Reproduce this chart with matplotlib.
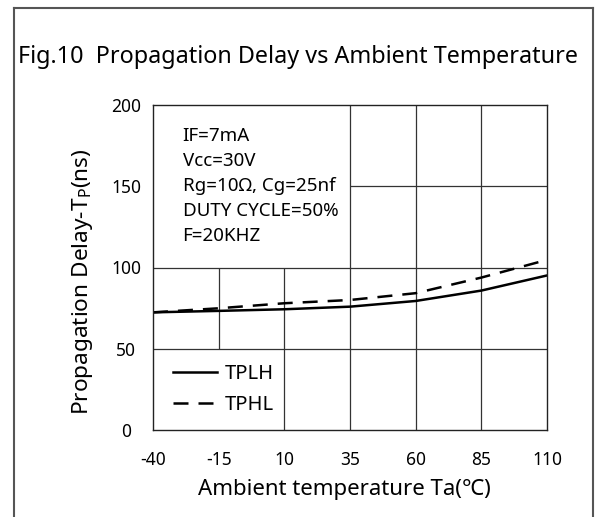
import matplotlib
matplotlib.use('Agg')
import matplotlib.pyplot as plt
from matplotlib.lines import Line2D

plt.rcParams['font.family'] = ['Noto Sans', 'Noto Sans CJK SC', 'DejaVu Sans']
plt.rcParams['mathtext.default'] = 'regular'

# data
temps = [-40, -15, 10, 35, 60, 85, 110]
tplh = [72.4, 73.3, 74.3, 75.9, 79.4, 85.8, 95.1]
tphl = [72.4, 74.9, 78.0, 80.0, 84.2, 93.8, 104.7]
yticks = [0, 50, 100, 150, 200]
conditions = ['IF=7mA', 'Vcc=30V', 'Rg=10\u03a9, Cg=25nf', 'DUTY CYCLE=50%', 'F=20KHZ']

fig = plt.figure(figsize=(5.95, 5.17), dpi=100)
ax = fig.add_axes([153 / 595, 1 - 430 / 517, 394 / 595, 325 / 517])

gc = '#333333'
gw = 0.9
# partial grid, left open where the notes and legend sit
ax.vlines(temps[1], 50, 100, color=gc, lw=gw)
ax.vlines(temps[2], 0, 100, color=gc, lw=gw)
ax.vlines(temps[3:6], 0, 200, color=gc, lw=gw)
ax.hlines(150, temps[3], temps[-1], color=gc, lw=gw)
ax.hlines([50, 100], temps[0], temps[-1], color=gc, lw=gw)

ax.plot(temps, tplh, color='black', lw=1.8, label='TPLH')
ax.plot(temps, tphl, color='black', lw=1.8, ls=(0, (6, 4)), label='TPHL')

ax.set_xlim(-40, 110)
ax.set_ylim(0, 200)
ax.set_xticks(temps)
ax.set_xticklabels([str(t) for t in temps])
ax.set_yticks(yticks)
ax.tick_params(length=0, labelsize=12.5)
ax.tick_params(axis='x', pad=15)
ax.tick_params(axis='y', pad=19.5)
for lab in ax.get_yticklabels():
    lab.set_horizontalalignment('center')
for s in ax.spines.values():
    s.set_linewidth(1.0)
    s.set_color('#222222')

ax.set_xlabel('Ambient temperature Ta(\u2103)', fontsize=16)
ax.xaxis.set_label_coords(0.485, -0.15)
ax.set_ylabel('Propagation Delay-T$_{P}$(ns)', fontsize=16.3)
ax.yaxis.set_label_coords(-0.147, 0.455)

for i, line in enumerate(conditions):
    ax.text(0.075, 0.905 - i * 0.077, line, transform=ax.transAxes,
            fontsize=13.5, va='center', ha='left')

ax.legend(loc='lower left', bbox_to_anchor=(0.025, 0.015), frameon=False,
          borderpad=0, fontsize=14.5, handlelength=2.2, handletextpad=0.35,
          labelspacing=0.55)

fig.text(0.5, 1 - 57 / 517, 'Fig.10  Propagation Delay vs Ambient Temperature',
         ha='center', va='center', fontsize=16.8)

# outer frame of the figure (open at the bottom)
bc = '#555555'
fx0, fx1, fy1 = 14 / 595, 593 / 595, 1 - 8 / 517
fig.add_artist(Line2D([fx0, fx0], [0, fy1], color=bc, lw=1.5))
fig.add_artist(Line2D([fx1, fx1], [0, fy1], color=bc, lw=1.5))
fig.add_artist(Line2D([fx0, fx1], [fy1, fy1], color=bc, lw=1.5))

fig.savefig('out.png', dpi=100)
